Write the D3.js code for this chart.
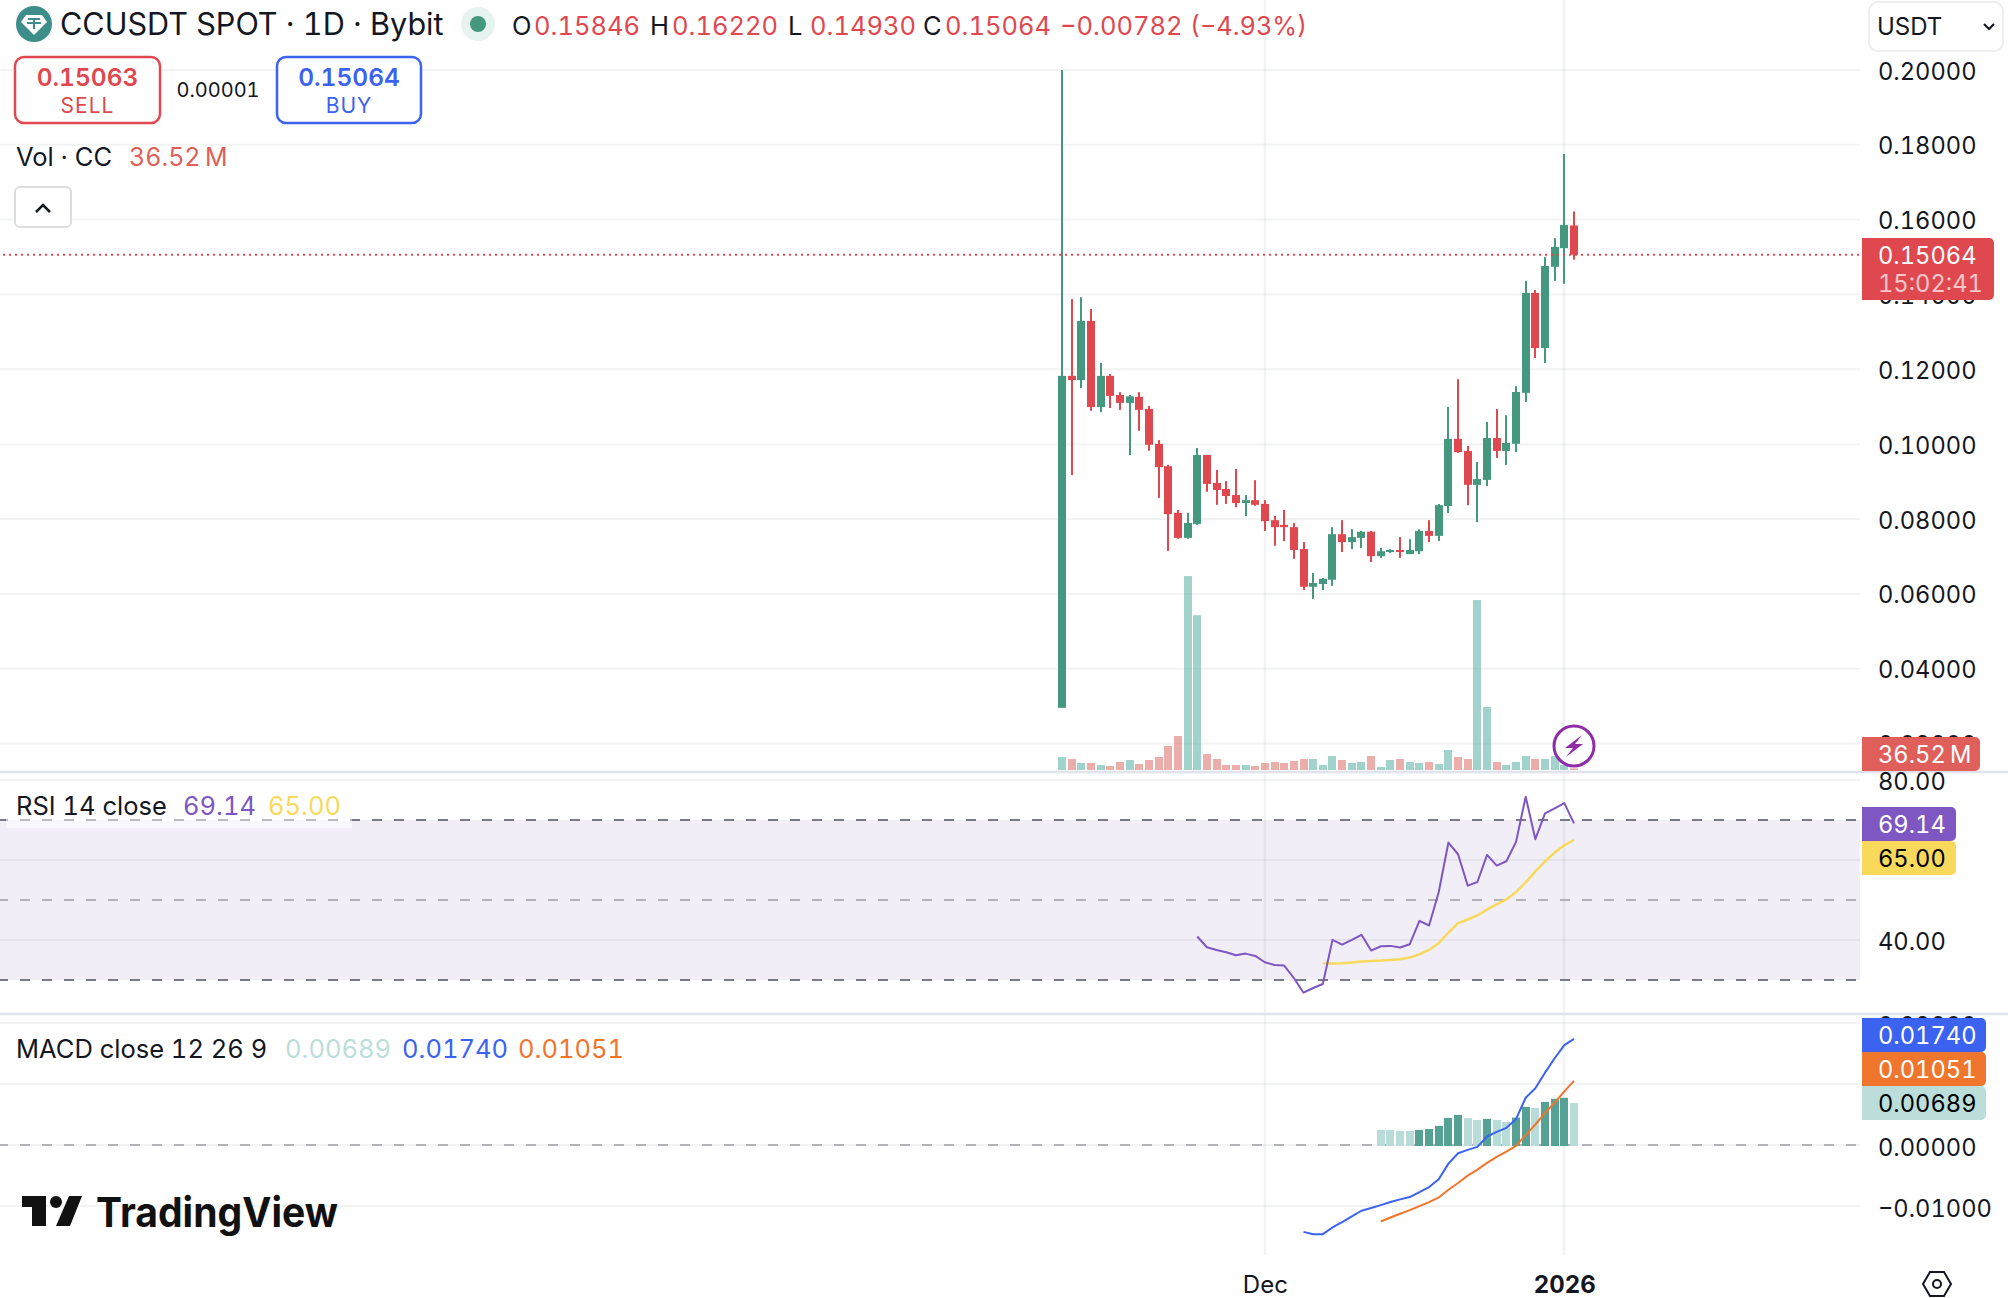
<!DOCTYPE html>
<html>
<head>
<meta charset="utf-8">
<script src="https://cdn.jsdelivr.net/npm/d3@7"></script>
<style>
  html, body { margin: 0; padding: 0; background: #fff; }
  svg { display: block; }
  text { font-family: Inter, "Noto Sans", sans-serif; fill: #131722; font-variant-numeric: tabular-nums; }
  .domain { display: none; }
</style>
</head>
<body>
<script>
// daily candles, first one is 10 Nov 2025
const firstDay = new Date(Date.UTC(2025, 10, 10));
const opens = [.02955,.11826,.11714,.13294,.10992,.11826,.11316,.11104,.11266,.10942,.10009,.09412,.08168,.07497,.07870,.09711,.08964,.08803,.08641,.08429,.08504,.08405,.07969,.07845,.07783,.07198,.06190,.06265,.06377,.07594,.07384,.07495,.07661,.07007,.07118,.07174,.07063,.07140,.07683,.07550,.08348,.10143,.09821,.08913,.09046,.10165,.09821,.10010,.11373,.14043,.12569,.14741,.15239,.15846];
const highs = [.19999,.13879,.13928,.13617,.12174,.11876,.11390,.11316,.11390,.11017,.10109,.09450,.08243,.08168,.09897,.09711,.09313,.09014,.09338,.08641,.09039,.08504,.08081,.08243,.07895,.07385,.06563,.06426,.07783,.07971,.07727,.07683,.07683,.07229,.07196,.07517,.07462,.07727,.07971,.08403,.10996,.11738,.09954,.09522,.10597,.10940,.10774,.11550,.14364,.14120,.14999,.15505,.17754,.16220];
const lows = [.02955,.09176,.11502,.10893,.10855,.10967,.10917,.09711,.10358,.09823,.08566,.07148,.07472,.07472,.07845,.08728,.08380,.08405,.08317,.08081,.08355,.07683,.07285,.07409,.06936,.06103,.05866,.06103,.06215,.07118,.07196,.07229,.06852,.06963,.07096,.06963,.07063,.07063,.07384,.07417,.08160,.09766,.08370,.07916,.08880,.09633,.09445,.09788,.11129,.12303,.12170,.14364,.14286,.14930];
const closes = [.11826,.11714,.13294,.10992,.11826,.11291,.11104,.11278,.10917,.09984,.09387,.08131,.07497,.07895,.09711,.08939,.08778,.08616,.08429,.08504,.08380,.07944,.07783,.07783,.07173,.06190,.06290,.06402,.07596,.07384,.07517,.07661,.07007,.07140,.07174,.07118,.07174,.07683,.07550,.08370,.10143,.09788,.08913,.09068,.10165,.09821,.10032,.11395,.14043,.12569,.14763,.15272,.15860,.15064];
// volume in millions
const volumes = [286,242,154,154,110,88,176,220,132,220,286,528,748,4266,3406,352,242,110,110,110,88,154,176,154,198,242,242,110,308,220,154,176,308,66,220,242,176,154,176,132,440,286,242,3738,1386,176,110,176,308,242,242,308,110,36.52];

const rsiStart = 14;
const rsiValues = [40.87,38.19,37.52,36.94,36.19,36.6,36.02,34.43,33.76,33.6,30.5,26.82,28.0,29.0,40.03,38.86,40.03,41.29,37.36,38.44,38.53,38.11,38.95,44.8,43.63,51.99,64.36,61.44,53.58,54.5,61.27,58.6,59.68,64.53,75.82,65.2,71.64,72.89,74.23,69.14];
const rsiMaStart = 27;
const rsiMaValues = [34.18,34.1,34.18,34.35,34.6,34.77,34.85,35.02,35.18,35.6,36.44,37.52,39.2,41.87,44.21,45.13,46.14,47.64,48.9,50.15,51.99,54.41,57.17,59.68,61.86,63.7,65.0];

const macdStart = 25;
const macdValues = [-.01424,-.01462,-.01462,-.01352,-.01264,-.01171,-.01078,-.01034,-.00985,-.00935,-.00891,-.00853,-.00771,-.00689,-.00562,-.00305,-.00135,-.0008,-.00031,.00139,.00215,.00281,.00424,.00775,.00929,.01186,.01422,.01636,.0174];
const signalStart = 33;
const signalValues = [-.01254,-.01188,-.01128,-.01067,-.01001,-.00936,-.0086,-.00733,-.00623,-.00502,-.00404,-.00294,-.00196,-.00108,-.00015,.00161,.00336,.00528,.00693,.00879,.01051];
const histValues = [.00247,.00247,.0023,.0023,.00247,.00263,.00313,.00444,.00493,.00444,.00411,.00428,.00411,.00378,.0045,.00625,.00609,.00707,.00757,.00773,.00689];

const priceTicks = [.02,.04,.06,.08,.10,.12,.14,.16,.18,.20];
const rsiTicks = [80,40];
const rsiGrid = [80,60,40];
const macdTicks = [.02,.01,0,-.01];

const GREEN = "#459880", RED = "#e04850", BLUE = "#3b63f0", ORANGE = "#f0752d", PURPLE = "#7e57c2", YELLOW = "#f8d95c", PALE = "#bcdeda";
const GRID = "rgba(42,46,57,0.06)";
const WIDTH = 2008, HEIGHT = 1298, PLOT_RIGHT = 1860;
const AXIS_FONT = 23.7, AXIS_X = 1878;

const day = i => new Date(firstDay.getTime() + i * 864e5);
const x = d3.scaleUtc().domain([day(0), day(53)]).range([1062, 1574]);
const xi = i => Math.round(x(day(i)));
const y = d3.scaleLinear().domain([0, .2]).range([818.4, 70]);
const yVol = d3.scaleLinear().domain([0, 4400]).range([770, 570]);
const yRsi = d3.scaleLinear().domain([30, 80]).range([980, 780]);
const yMacd = d3.scaleLinear().domain([-.01, .02]).range([1206, 1023]);

const svg = d3.select("body").append("svg").attr("width", WIDTH).attr("height", HEIGHT);
svg.append("rect").attr("width", WIDTH).attr("height", HEIGHT).attr("fill", "#fff");

// rsi band goes under the grid
svg.append("rect").attr("x", 0).attr("width", PLOT_RIGHT)
  .attr("y", yRsi(70)).attr("height", yRsi(30) - yRsi(70)).attr("fill", "#f1eef8");

function hGrid(values, scale) {
  svg.append("g").selectAll("line").data(values).enter().append("line")
    .attr("x1", 0).attr("x2", PLOT_RIGHT)
    .attr("y1", scale).attr("y2", scale)
    .attr("stroke", GRID).attr("stroke-width", 2);
}
hGrid(priceTicks, y);
hGrid(rsiGrid, yRsi);
hGrid(macdTicks, yMacd);

svg.append("g").selectAll("line").data([21, 52]).enter().append("line")
  .attr("x1", xi).attr("x2", xi).attr("y1", 0).attr("y2", 1255)
  .attr("stroke", GRID).attr("stroke-width", 2.5);

function dashed(yPos, color) {
  svg.append("line").attr("x1", 0).attr("x2", PLOT_RIGHT).attr("y1", yPos).attr("y2", yPos)
    .attr("stroke", color).attr("stroke-width", 2)
    .attr("stroke-dasharray", "10 12").attr("stroke-dashoffset", 2);
}
dashed(yRsi(70), "#787b86");
dashed(yRsi(50), "#b2b3b9");
dashed(yRsi(30), "#787b86");
dashed(yMacd(0), "#b2b3b9");

// volume
svg.append("g").selectAll("rect").data(volumes).enter().append("rect")
  .attr("x", (d, i) => xi(i) - 4).attr("width", 8)
  .attr("y", d => yVol(d)).attr("height", d => yVol(0) - yVol(d))
  .attr("fill", (d, i) => closes[i] >= opens[i] ? "rgba(70,166,154,0.5)" : "rgba(215,94,86,0.5)");

// candles
const candles = svg.append("g").selectAll("g").data(d3.range(opens.length)).enter().append("g")
  .attr("fill", i => closes[i] >= opens[i] ? GREEN : RED);
candles.append("rect").attr("x", i => xi(i) - 1).attr("width", 2)
  .attr("y", i => y(highs[i])).attr("height", i => y(lows[i]) - y(highs[i]));
candles.append("rect").attr("x", i => xi(i) - 4).attr("width", 8)
  .attr("y", i => y(Math.max(opens[i], closes[i])))
  .attr("height", i => Math.max(2, Math.abs(y(opens[i]) - y(closes[i]))));

svg.append("line").attr("x1", 3).attr("x2", PLOT_RIGHT)
  .attr("y1", y(closes[53])).attr("y2", y(closes[53]))
  .attr("stroke", RED).attr("stroke-width", 2).attr("stroke-dasharray", "2 4");

// rsi lines
function seriesLine(values, start, scale, color, width) {
  const line = d3.line().x((d, i) => x(day(i + start))).y(d => scale(d));
  svg.append("path").datum(values).attr("d", line)
    .attr("fill", "none").attr("stroke", color).attr("stroke-width", width || 2).attr("stroke-linejoin", "round");
}
seriesLine(rsiMaValues, rsiMaStart, yRsi, YELLOW, 2.5);
seriesLine(rsiValues, rsiStart, yRsi, PURPLE);

// macd histogram, dark while rising
svg.append("g").selectAll("rect").data(histValues).enter().append("rect")
  .attr("x", (d, i) => xi(i + signalStart) - 4).attr("width", 8)
  .attr("y", d => yMacd(d)).attr("height", d => yMacd(0) - yMacd(d) + 1)
  .attr("fill", (d, i) => i > 0 && d > histValues[i - 1] ? "#55a295" : "#b8dcd7");
seriesLine(macdValues, macdStart, yMacd, BLUE);
seriesLine(signalValues, signalStart, yMacd, ORANGE);

// pane separators
svg.append("g").selectAll("line").data([772, 1014]).enter().append("line")
  .attr("x1", 0).attr("x2", WIDTH).attr("y1", d => d).attr("y2", d => d)
  .attr("stroke", "#e0e3eb").attr("stroke-width", 2.5);

// axes
function priceAxis(scale, ticks, format, dy) {
  const g = svg.append("g").attr("transform", `translate(${AXIS_X},${dy})`)
    .call(d3.axisRight(scale).tickValues(ticks).tickSize(0).tickPadding(0).tickFormat(format));
  g.selectAll("text").attr("font-size", AXIS_FONT).attr("font-family", "Inter").attr("fill", "#131722");
}
const fmt5 = d => (d < 0 ? "\u2212" : "") + Math.abs(d).toFixed(5);
priceAxis(y, priceTicks, fmt5, 1.5);
priceAxis(yRsi, rsiTicks, d => d.toFixed(2), 1.5);
priceAxis(yMacd, macdTicks, fmt5, 2.5);

const timeAxis = svg.append("g").attr("transform", "translate(0,1265)")
  .call(d3.axisBottom(x).tickValues([day(21), day(52)]).tickSize(0).tickPadding(11)
    .tickFormat(d => d.getUTCMonth() === 0 ? "2026" : "Dec"));
timeAxis.selectAll("text").attr("font-size", 24).attr("font-family", "Inter").attr("fill", "#131722")
  .attr("font-weight", d => d.getUTCMonth() === 0 ? 700 : 400);

// right hand tags
function tag(x0, y0, w, h, color) {
  svg.append("path").attr("fill", color)
    .attr("d", `M${x0},${y0}H${x0 + w - 5}a5,5 0 0 1 5,5V${y0 + h - 5}a5,5 0 0 1 -5,5H${x0}Z`);
}
function label(str, px, py, size, color, opts) {
  const t = svg.append("text").attr("x", px).attr("y", py).attr("font-size", size).style("fill", color).text(str);
  if (opts) Object.keys(opts).forEach(k => t.attr(k, opts[k]));
  return t;
}
tag(1862, 238, 132, 62, RED);
label("0.15064", AXIS_X, 264, AXIS_FONT, "#fff");
label("15:02:41", AXIS_X, 292, AXIS_FONT, "#f7c6c8");
tag(1862, 737, 118, 34, "#e05f5a");
label("36.52\u2009M", AXIS_X, 763, AXIS_FONT, "#fff");
tag(1862, 807, 94, 34, PURPLE);
label("69.14", AXIS_X, 833, AXIS_FONT, "#fff");
tag(1862, 841, 94, 34, YELLOW);
label("65.00", AXIS_X, 867, AXIS_FONT, "#000");
tag(1862, 1018, 124, 34, BLUE);
label("0.01740", AXIS_X, 1044, AXIS_FONT, "#fff");
tag(1862, 1052, 124, 34, ORANGE);
label("0.01051", AXIS_X, 1078, AXIS_FONT, "#fff");
tag(1862, 1086, 124, 34, PALE);
label("0.00689", AXIS_X, 1112, AXIS_FONT, "#000");

// header
svg.append("circle").attr("cx", 34).attr("cy", 24).attr("r", 18).attr("fill", "#3d8e8a");
svg.append("path").attr("fill", "#fff").attr("d", "M26,15H42L47,22L34,35L21,22Z");
svg.append("path").attr("fill", "none").attr("stroke", "#3d8e8a").attr("stroke-width", 2).attr("d", "M28,19H40M34,19V29M27,23H41");
label("CCUSDT SPOT \u00b7 1D \u00b7 Bybit", 60, 35, 30.6);
svg.append("circle").attr("cx", 478).attr("cy", 24).attr("r", 17).attr("fill", "#e6f3f0");
svg.append("circle").attr("cx", 478).attr("cy", 24).attr("r", 8).attr("fill", GREEN);

const ohlcLabels = ["O", "H", "L", "C"];
const ohlcValues = ["0.15846", "0.16220", "0.14930", "0.15064"];
const ohlcX = [512, 650, 788, 923];
ohlcLabels.forEach((s, i) => {
  label(s, ohlcX[i], 35, 25.5, "#131722");
  label(ohlcValues[i], ohlcX[i] + 22, 35, 25.5, RED);
});
label("\u22120.00782", 1060, 35, 25.5, RED);
label("(\u22124.93%)", 1190, 35, 25.3, RED);

// buy and sell boxes
function tradeBox(x0, w, color, price, side) {
  svg.append("rect").attr("x", x0).attr("y", 57).attr("width", w).attr("height", 66).attr("rx", 9)
    .attr("fill", "#fff").attr("stroke", color).attr("stroke-width", 2.5);
  label(price, x0 + w / 2, 86, 24.5, color, { "text-anchor": "middle", "font-weight": 600 });
  label(side, x0 + w / 2, 113, 21, color, { "text-anchor": "middle", "letter-spacing": 1 });
}
tradeBox(15, 145, RED, "0.15063", "SELL");
tradeBox(277, 144, BLUE, "0.15064", "BUY");
label("0.00001", 218, 97, 20, "#131722", { "text-anchor": "middle" });

label("Vol \u00b7 CC", 16, 166, 25.5);
label("36.52\u2009M", 129, 166, 25, "#e05f5a");
svg.append("rect").attr("x", 15).attr("y", 187).attr("width", 56).attr("height", 40).attr("rx", 5)
  .attr("fill", "#fff").attr("stroke", "#dcdde0").attr("stroke-width", 2);
svg.append("path").attr("d", "M36,212L43,205L50,212").attr("fill", "none").attr("stroke", "#131722").attr("stroke-width", 2.5);

// currency selector
svg.append("rect").attr("x", 1869).attr("y", 2).attr("width", 134).attr("height", 49).attr("rx", 9)
  .attr("fill", "#fff").attr("stroke", "#eceef1").attr("stroke-width", 2);
label("USDT", 1877, 35, 24);
svg.append("path").attr("d", "M1984,24L1989,29L1994,24").attr("fill", "none").attr("stroke", "#131722").attr("stroke-width", 2.2);

// indicator legends
svg.append("rect").attr("x", 6).attr("y", 786).attr("width", 346).attr("height", 42).attr("fill", "#fff").attr("opacity", 0.5);
label("RSI 14 close", 16, 815, 25.5);
label("69.14", 183, 815, 25.5, PURPLE);
label("65.00", 268, 815, 25.5, YELLOW);
label("MACD close 12 26 9", 16, 1058, 25.5);
label("0.00689", 285, 1058, 25.5, PALE);
label("0.01740", 402, 1058, 25.5, BLUE);
label("0.01051", 518, 1058, 25.5, ORANGE);

// lightning badge
svg.append("circle").attr("cx", 1574).attr("cy", 746).attr("r", 20).attr("fill", "#fff").attr("stroke", "#8e2da7").attr("stroke-width", 3);
svg.append("path").attr("fill", "#8e2da7").attr("d", "M1582,735L1565,748H1573L1566,757L1583,744H1575Z");

// settings hexagon
svg.append("path").attr("fill", "none").attr("stroke", "#131722").attr("stroke-width", 2)
  .attr("d", "M1930,1272H1944L1951,1284L1944,1296H1930L1923,1284Z");
svg.append("circle").attr("cx", 1937).attr("cy", 1284).attr("r", 4).attr("fill", "none").attr("stroke", "#131722").attr("stroke-width", 2);

// logo
svg.append("path").attr("fill", "#111").attr("d", "M22,1196H46V1226H32V1207H22Z");
svg.append("circle").attr("cx", 56).attr("cy", 1202).attr("r", 6).attr("fill", "#111");
svg.append("path").attr("fill", "#111").attr("d", "M69,1196H82L70,1226H56Z");
label("TradingView", 96, 1227, 41, "#111", { "font-weight": 700, "textLength": 242, "lengthAdjust": "spacingAndGlyphs" });
</script>
</body>
</html>
